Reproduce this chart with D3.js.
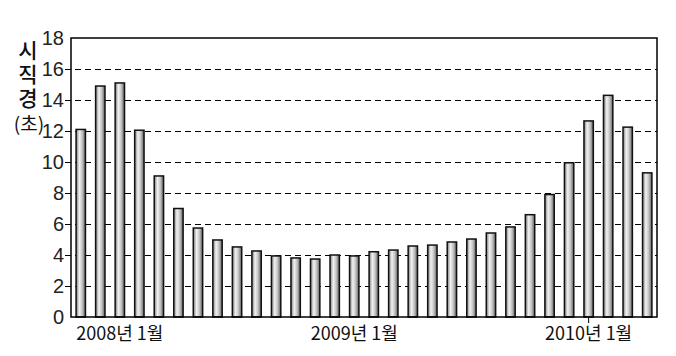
<!DOCTYPE html>
<html>
<head>
<meta charset="utf-8">
<script src="https://cdn.jsdelivr.net/npm/d3@7"></script>
<style>
  html, body { margin: 0; padding: 0; background: #fff; }
  svg { display: block; }
</style>
</head>
<body>
<svg id="chart" width="676" height="356"></svg>
<script>
// Months from Nov 2007 to Apr 2010
const months = [
  "2007-11","2007-12",
  "2008-01","2008-02","2008-03","2008-04","2008-05","2008-06",
  "2008-07","2008-08","2008-09","2008-10","2008-11","2008-12",
  "2009-01","2009-02","2009-03","2009-04","2009-05","2009-06",
  "2009-07","2009-08","2009-09","2009-10","2009-11","2009-12",
  "2010-01","2010-02","2010-03","2010-04"
];
// Visibility in seconds
const values = [
  12.1, 14.9, 15.1, 12.05, 9.1, 7.0,
  5.74, 4.97, 4.52, 4.26, 3.94, 3.81,
  3.74, 4.0, 3.94, 4.21, 4.32, 4.58,
  4.64, 4.84, 5.03, 5.42, 5.81, 6.6,
  7.9, 9.95, 12.65, 14.3, 12.25, 9.3
];
const yTicks = [0, 2, 4, 6, 8, 10, 12, 14, 16, 18];
const xTickMonths = ["2008-01", "2009-01", "2010-01"];
const xTickLabels = ["2008년 1월", "2009년 1월", "2010년 1월"];
const yTitle = "시직경";
const yTitleUnit = "(초)";

(function () {
const svg = d3.select("#chart");
const mLeft = 71, mRight = 657, mTop = 38, mBottom = 317;

const x = d3.scaleBand().domain(months).range([mLeft, mRight])
  .paddingInner(0.52).paddingOuter(0.26);
const y = d3.scaleLinear().domain([0, 18]).range([mBottom, mTop]);

// gradient for bars
const defs = svg.append("defs");
const grad = defs.append("linearGradient").attr("id", "barGrad")
  .attr("x1", "0%").attr("x2", "100%").attr("y1", "0%").attr("y2", "0%");
grad.append("stop").attr("offset", "0%").attr("stop-color", "#7a7a7a");
grad.append("stop").attr("offset", "35%").attr("stop-color", "#f2f2f2");
grad.append("stop").attr("offset", "65%").attr("stop-color", "#c4c4c4");
grad.append("stop").attr("offset", "100%").attr("stop-color", "#5e5e5e");

// gridlines (dashed), extending slightly left of axis
svg.append("g").selectAll("line").data(yTicks.filter(d => d > 0 && d < 18)).join("line")
  .attr("x1", mLeft - 6).attr("x2", mRight)
  .attr("y1", d => Math.round(y(d)) + 0.5).attr("y2", d => Math.round(y(d)) + 0.5)
  .attr("stroke", "#000").attr("stroke-width", 1)
  .attr("stroke-dasharray", "6,4");

// bars
svg.append("g").selectAll("rect").data(values).join("rect")
  .attr("x", (d, i) => x(months[i]))
  .attr("width", x.bandwidth())
  .attr("y", d => y(d))
  .attr("height", d => y(0) - y(d))
  .attr("fill", "url(#barGrad)")
  .attr("stroke", "#111").attr("stroke-width", 1.5);

// frame
svg.append("rect").attr("x", mLeft).attr("y", mTop)
  .attr("width", mRight - mLeft).attr("height", mBottom - mTop)
  .attr("fill", "none").attr("stroke", "#000").attr("stroke-width", 1.5);

// y tick labels
svg.append("g").selectAll("text").data(yTicks).join("text")
  .attr("x", mLeft - 7).attr("y", d => y(d))
  .attr("dy", "0.36em")
  .attr("text-anchor", "end")
  .attr("font-family", "Liberation Sans, sans-serif")
  .attr("font-size", 20)
  .attr("fill", "#222")
  .text(d => d);

// x tick labels
svg.append("g").selectAll("text").data(xTickMonths).join("text")
  .attr("x", d => x(d) + x.bandwidth() / 2)
  .attr("y", 340)
  .attr("text-anchor", "middle")
  .attr("font-family", "Noto Sans CJK KR, sans-serif")
  .attr("font-size", 18)
  .attr("fill", "#111")
  .text((d, i) => xTickLabels[i]);

// small tick for 2010
svg.append("line")
  .attr("x1", x("2010-01") + x.bandwidth() / 2).attr("x2", x("2010-01") + x.bandwidth() / 2)
  .attr("y1", mBottom).attr("y2", mBottom + 6)
  .attr("stroke", "#000").attr("stroke-width", 1);

// y title (vertical stacked, single text)
svg.append("text")
  .attr("x", 28).attr("y", 40)
  .attr("writing-mode", "vertical-rl")
  .attr("letter-spacing", 3)
  .attr("font-family", "Noto Sans CJK KR, sans-serif")
  .attr("font-size", 21)
  .attr("font-weight", 500)
  .attr("fill", "#111")
  .text(yTitle);
svg.append("text")
  .attr("x", 29).attr("y", 131)
  .attr("text-anchor", "middle")
  .attr("font-family", "Noto Sans CJK KR, sans-serif")
  .attr("font-size", 19)
  .attr("fill", "#111")
  .text(yTitleUnit);
})();
</script>
</body>
</html>
